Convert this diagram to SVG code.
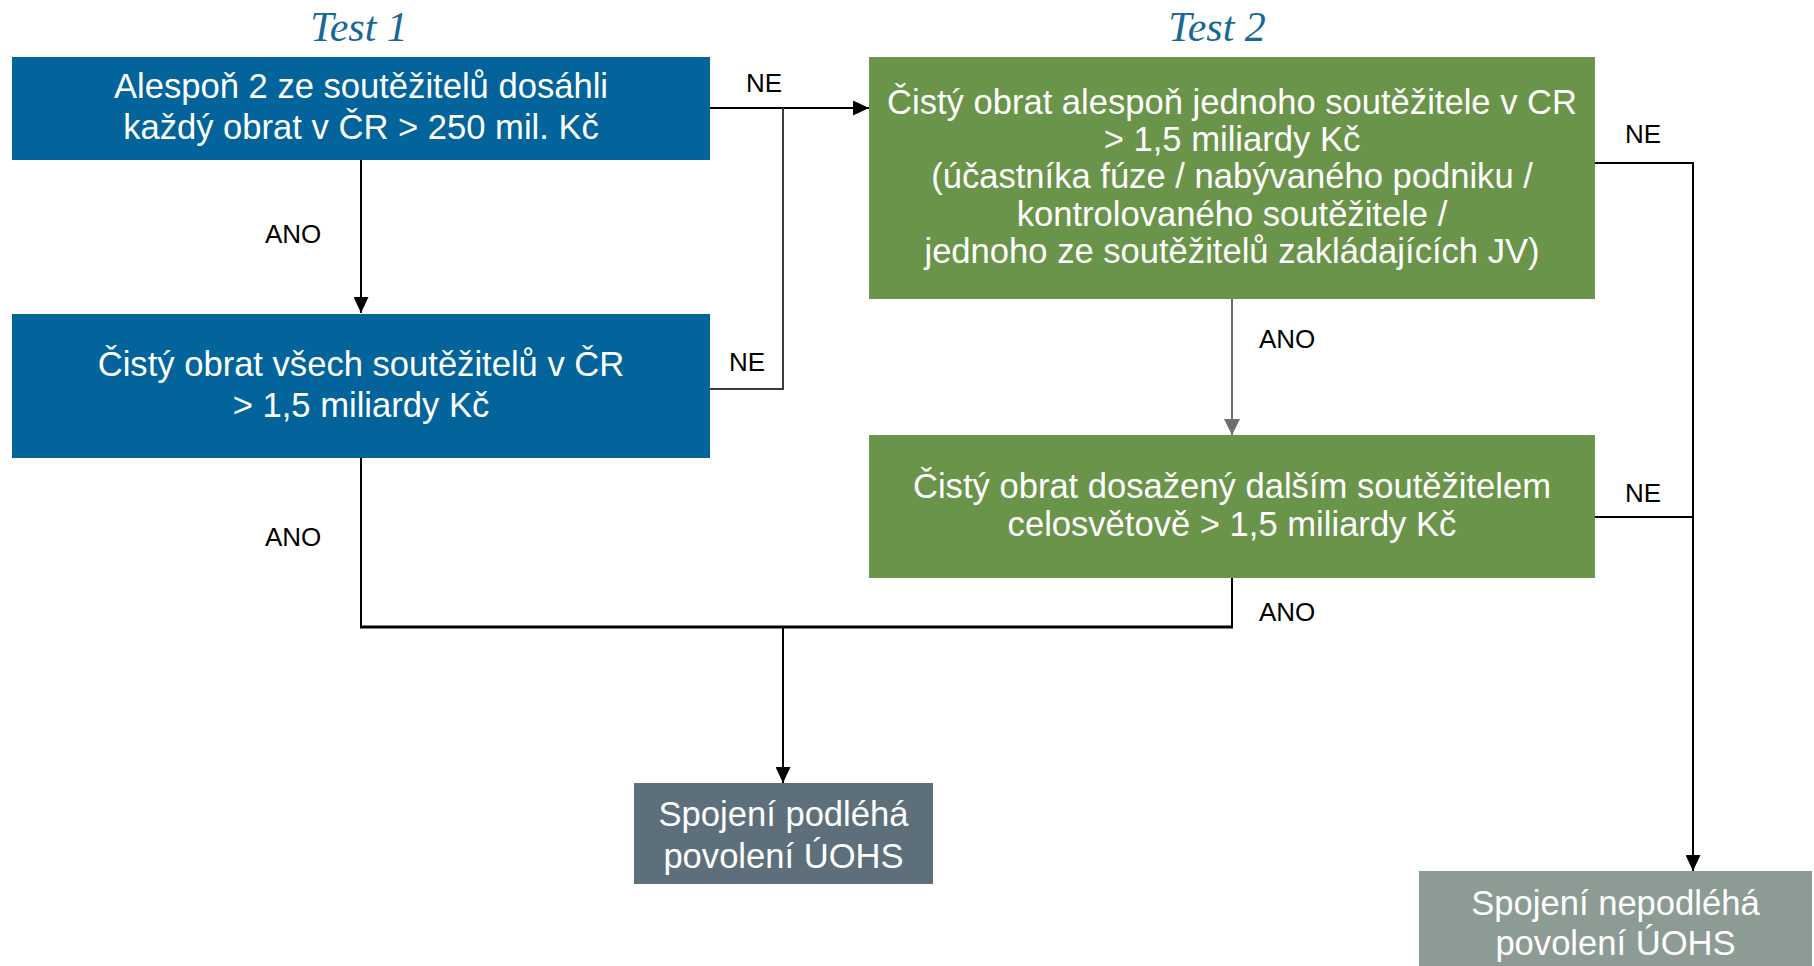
<svg xmlns="http://www.w3.org/2000/svg" width="1814" height="966" viewBox="0 0 1814 966">
<style>
.title{font-family:"Liberation Serif","Times New Roman",serif;font-style:italic;font-size:42px;fill:#1a6896;text-anchor:middle}
.bt{font-family:"Liberation Sans",Arial,sans-serif;font-size:34.6px;fill:#ffffff;text-anchor:middle}
.lbl{font-family:"Liberation Sans",Arial,sans-serif;font-size:26px;fill:#000000}
.blue{fill:#02649a}
.green{fill:#6a9449}
.slate{fill:#5d6f7b}
.sage{fill:#8c9b94}
.ln{fill:none;stroke:#000;stroke-width:2}
.lg{fill:none;stroke:#6d6e71;stroke-width:2}
.ld{fill:none;stroke:#3c3c3c;stroke-width:2}
</style>
<defs>
<marker id="ab" markerUnits="userSpaceOnUse" markerWidth="16" markerHeight="15" refX="16" refY="7.5" orient="auto" viewBox="0 0 16 15"><path d="M0,0 L16,7.5 L0,15 z" fill="#000"/></marker>
<marker id="ag" markerUnits="userSpaceOnUse" markerWidth="16" markerHeight="16" refX="16" refY="8" orient="auto" viewBox="0 0 16 16"><path d="M0,0 L16,8 L0,16 z" fill="#6d6e71"/></marker>
</defs>
<rect width="1814" height="966" fill="#ffffff"/>
<text class="title" x="359" y="41">Test 1</text>
<text class="title" x="1217" y="41">Test 2</text>

<g id="connectors">
<path class="ln" d="M361,160 V313" marker-end="url(#ab)"/>
<path class="ln" d="M710,108 H869" marker-end="url(#ab)"/>
<path class="ld" d="M710,389 H783 V108"/>
<path class="lg" d="M1232,299 V435" marker-end="url(#ag)"/>
<path class="ln" d="M361,458 V627"/>
<path class="ln" d="M1232,578 V627"/>
<path fill="none" stroke="#000" stroke-width="3" d="M360,627 H1233"/>
<path class="ln" d="M783,628 V783" marker-end="url(#ab)"/>
<path class="ln" d="M1595,163 H1693 V871" marker-end="url(#ab)"/>
<path class="ln" d="M1595,517 H1693"/>
<text class="lbl" x="746" y="92">NE</text>
<text class="lbl" x="265" y="243">ANO</text>
<text class="lbl" x="729" y="371">NE</text>
<text class="lbl" x="265" y="546">ANO</text>
<text class="lbl" x="1625" y="143">NE</text>
<text class="lbl" x="1625" y="502">NE</text>
<text class="lbl" x="1259" y="348">ANO</text>
<text class="lbl" x="1259" y="621">ANO</text>
</g>

<g id="node-test1-a">
<rect class="blue" x="12" y="57" width="698" height="103"/>
<text class="bt" x="361" y="98">Alespoň 2 ze soutěžitelů dosáhli</text>
<text class="bt" x="361" y="139">každý obrat v ČR &gt; 250 mil. Kč</text>
</g>

<g id="node-test1-b">
<rect class="blue" x="12" y="314" width="698" height="144"/>
<text class="bt" x="361" y="376">Čistý obrat všech soutěžitelů v ČR</text>
<text class="bt" x="361" y="417">&gt; 1,5 miliardy Kč</text>
</g>

<g id="node-test2-a">
<rect class="green" x="869" y="57" width="726" height="242"/>
<text class="bt" x="1232" y="113.5">Čistý obrat alespoň jednoho soutěžitele v CR</text>
<text class="bt" x="1232" y="151">&gt; 1,5 miliardy Kč</text>
<text class="bt" x="1232" y="188">(účastníka fúze / nabývaného podniku /</text>
<text class="bt" x="1232" y="225.5">kontrolovaného soutěžitele /</text>
<text class="bt" x="1232" y="263">jednoho ze soutěžitelů zakládajících JV)</text>
</g>

<g id="node-test2-b">
<rect class="green" x="869" y="435" width="726" height="143"/>
<text class="bt" x="1232" y="498">Čistý obrat dosažený dalším soutěžitelem</text>
<text class="bt" x="1232" y="536">celosvětově &gt; 1,5 miliardy Kč</text>
</g>

<g id="node-podleha">
<rect class="slate" x="634" y="783" width="299" height="101"/>
<text class="bt" x="783.5" y="826">Spojení podléhá</text>
<text class="bt" x="783.5" y="868">povolení ÚOHS</text>
</g>

<g id="node-nepodleha">
<rect class="sage" x="1419" y="871" width="393" height="100"/>
<text class="bt" x="1615.5" y="915">Spojení nepodléhá</text>
<text class="bt" x="1615.5" y="955">povolení ÚOHS</text>
</g>
</svg>
